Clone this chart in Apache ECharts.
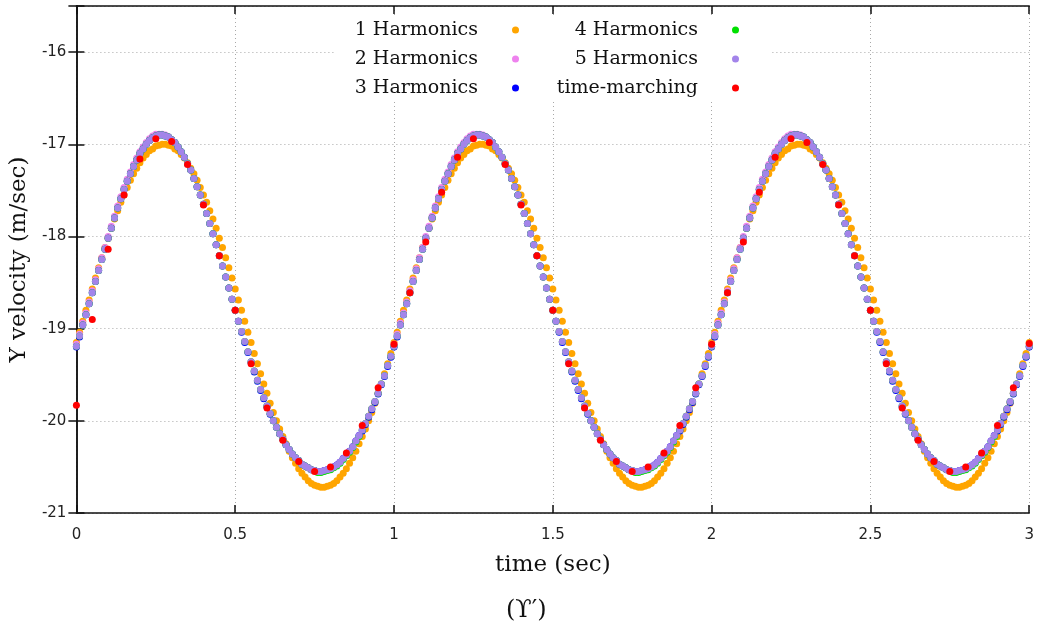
<!DOCTYPE html>
<head>
    <meta charset="utf-8">
    <title>Y velocity vs time</title>
    <style>
        html, body {
            width: 100%;
            height: 100%;
            margin: 0;
            background: #fff;
        }
        #main {
            width: 1037px;
            height: 628px;
        }
    </style>
</head>
<body>
<div id="main"></div>
<script src="https://cdn.jsdelivr.net/npm/echarts@6/dist/echarts.min.js"></script>
<script type="text/javascript">
  // sampling of the harmonic-balance curves and of the time-marching run (sec)
  var tStep = 0.01;
  var tmStep = 0.05;

  var xTicks = [0, 3, 0.5];      // min, max, interval
  var yTicks = [-21, -15.5, 1];

  // 1 harmonic
  var h1 = [
    -19.15,-19.04,-18.92,-18.80,-18.69,-18.57,-18.45,-18.34,-18.23,-18.12,
    -18.02,-17.91,-17.81,-17.72,-17.63,-17.55,-17.47,-17.39,-17.32,-17.26,
    -17.20,-17.15,-17.11,-17.07,-17.05,-17.02,-17.01,-17.00,-17.00,-17.01,
    -17.02,-17.05,-17.07,-17.11,-17.15,-17.20,-17.26,-17.32,-17.39,-17.47,
    -17.55,-17.63,-17.72,-17.81,-17.91,-18.02,-18.12,-18.23,-18.34,-18.45,
    -18.57,-18.69,-18.80,-18.92,-19.04,-19.15,-19.27,-19.38,-19.49,-19.60,
    -19.70,-19.81,-19.91,-20.00,-20.09,-20.17,-20.25,-20.33,-20.40,-20.46,
    -20.52,-20.57,-20.61,-20.65,-20.68,-20.70,-20.71,-20.72,-20.72,-20.71,
    -20.70,-20.68,-20.65,-20.61,-20.57,-20.52,-20.46,-20.40,-20.33,-20.25,
    -20.17,-20.09,-20.00,-19.91,-19.81,-19.70,-19.60,-19.49,-19.38,-19.27,
    -19.15,-19.04,-18.92,-18.80,-18.69,-18.57,-18.45,-18.34,-18.23,-18.12,
    -18.02,-17.91,-17.81,-17.72,-17.63,-17.55,-17.47,-17.39,-17.32,-17.26,
    -17.20,-17.15,-17.11,-17.07,-17.05,-17.02,-17.01,-17.00,-17.00,-17.01,
    -17.02,-17.05,-17.07,-17.11,-17.15,-17.20,-17.26,-17.32,-17.39,-17.47,
    -17.55,-17.63,-17.72,-17.81,-17.91,-18.02,-18.12,-18.23,-18.34,-18.45,
    -18.57,-18.69,-18.80,-18.92,-19.04,-19.15,-19.27,-19.38,-19.49,-19.60,
    -19.70,-19.81,-19.91,-20.00,-20.09,-20.17,-20.25,-20.33,-20.40,-20.46,
    -20.52,-20.57,-20.61,-20.65,-20.68,-20.70,-20.71,-20.72,-20.72,-20.71,
    -20.70,-20.68,-20.65,-20.61,-20.57,-20.52,-20.46,-20.40,-20.33,-20.25,
    -20.17,-20.09,-20.00,-19.91,-19.81,-19.70,-19.60,-19.49,-19.38,-19.27,
    -19.15,-19.04,-18.92,-18.80,-18.69,-18.57,-18.45,-18.34,-18.23,-18.12,
    -18.02,-17.91,-17.81,-17.72,-17.63,-17.55,-17.47,-17.39,-17.32,-17.26,
    -17.20,-17.15,-17.11,-17.07,-17.05,-17.02,-17.01,-17.00,-17.00,-17.01,
    -17.02,-17.05,-17.07,-17.11,-17.15,-17.20,-17.26,-17.32,-17.39,-17.47,
    -17.55,-17.63,-17.72,-17.81,-17.91,-18.02,-18.12,-18.23,-18.34,-18.45,
    -18.57,-18.69,-18.80,-18.92,-19.04,-19.15,-19.27,-19.38,-19.49,-19.60,
    -19.70,-19.81,-19.91,-20.00,-20.09,-20.17,-20.25,-20.33,-20.40,-20.46,
    -20.52,-20.57,-20.61,-20.65,-20.68,-20.70,-20.71,-20.72,-20.72,-20.71,
    -20.70,-20.68,-20.65,-20.61,-20.57,-20.52,-20.46,-20.40,-20.33,-20.25,
    -20.17,-20.09,-20.00,-19.91,-19.81,-19.70,-19.60,-19.49,-19.38,-19.27,
    -19.15
  ];

  // 2 harmonics
  var h2 = [
    -19.17,-19.06,-18.94,-18.83,-18.71,-18.59,-18.47,-18.35,-18.23,-18.12,
    -18.00,-17.89,-17.78,-17.67,-17.57,-17.47,-17.38,-17.30,-17.22,-17.15,
    -17.08,-17.03,-16.98,-16.94,-16.91,-16.89,-16.89,-16.89,-16.90,-16.92,
    -16.95,-16.98,-17.03,-17.08,-17.14,-17.21,-17.28,-17.37,-17.46,-17.55,
    -17.65,-17.75,-17.86,-17.97,-18.09,-18.21,-18.32,-18.44,-18.56,-18.68,
    -18.80,-18.92,-19.03,-19.14,-19.25,-19.36,-19.46,-19.56,-19.66,-19.75,
    -19.84,-19.92,-20.00,-20.07,-20.14,-20.20,-20.26,-20.31,-20.36,-20.40,
    -20.43,-20.47,-20.49,-20.51,-20.53,-20.54,-20.55,-20.55,-20.54,-20.53,
    -20.52,-20.50,-20.48,-20.45,-20.41,-20.37,-20.33,-20.28,-20.22,-20.16,
    -20.10,-20.03,-19.95,-19.87,-19.79,-19.70,-19.60,-19.51,-19.40,-19.30,
    -19.17,-19.06,-18.94,-18.83,-18.71,-18.59,-18.47,-18.35,-18.23,-18.12,
    -18.00,-17.89,-17.78,-17.67,-17.57,-17.47,-17.38,-17.30,-17.22,-17.15,
    -17.08,-17.03,-16.98,-16.94,-16.91,-16.89,-16.89,-16.89,-16.90,-16.92,
    -16.95,-16.98,-17.03,-17.08,-17.14,-17.21,-17.28,-17.37,-17.46,-17.55,
    -17.65,-17.75,-17.86,-17.97,-18.09,-18.21,-18.32,-18.44,-18.56,-18.68,
    -18.80,-18.92,-19.03,-19.14,-19.25,-19.36,-19.46,-19.56,-19.66,-19.75,
    -19.84,-19.92,-20.00,-20.07,-20.14,-20.20,-20.26,-20.31,-20.36,-20.40,
    -20.43,-20.47,-20.49,-20.51,-20.53,-20.54,-20.55,-20.55,-20.54,-20.53,
    -20.52,-20.50,-20.48,-20.45,-20.41,-20.37,-20.33,-20.28,-20.22,-20.16,
    -20.10,-20.03,-19.95,-19.87,-19.79,-19.70,-19.60,-19.51,-19.40,-19.30,
    -19.17,-19.06,-18.94,-18.83,-18.71,-18.59,-18.47,-18.35,-18.23,-18.12,
    -18.00,-17.89,-17.78,-17.67,-17.57,-17.47,-17.38,-17.30,-17.22,-17.15,
    -17.08,-17.03,-16.98,-16.94,-16.91,-16.89,-16.89,-16.89,-16.90,-16.92,
    -16.95,-16.98,-17.03,-17.08,-17.14,-17.21,-17.28,-17.37,-17.46,-17.55,
    -17.65,-17.75,-17.86,-17.97,-18.09,-18.21,-18.32,-18.44,-18.56,-18.68,
    -18.80,-18.92,-19.03,-19.14,-19.25,-19.36,-19.46,-19.56,-19.66,-19.75,
    -19.84,-19.92,-20.00,-20.07,-20.14,-20.20,-20.26,-20.31,-20.36,-20.40,
    -20.43,-20.47,-20.49,-20.51,-20.53,-20.54,-20.55,-20.55,-20.54,-20.53,
    -20.52,-20.50,-20.48,-20.45,-20.41,-20.37,-20.33,-20.28,-20.22,-20.16,
    -20.10,-20.03,-19.95,-19.87,-19.79,-19.70,-19.60,-19.51,-19.40,-19.30,
    -19.17
  ];

  // 3 harmonics
  var h3 = [
    -19.20,-19.09,-18.96,-18.85,-18.73,-18.61,-18.49,-18.37,-18.25,-18.14,
    -18.02,-17.91,-17.80,-17.69,-17.59,-17.49,-17.40,-17.32,-17.24,-17.17,
    -17.10,-17.05,-17.00,-16.96,-16.93,-16.91,-16.90,-16.90,-16.91,-16.92,
    -16.95,-16.98,-17.03,-17.08,-17.14,-17.21,-17.28,-17.37,-17.46,-17.55,
    -17.65,-17.75,-17.86,-17.97,-18.09,-18.21,-18.32,-18.44,-18.56,-18.68,
    -18.80,-18.92,-19.04,-19.15,-19.26,-19.37,-19.47,-19.57,-19.67,-19.76,
    -19.85,-19.93,-20.00,-20.07,-20.14,-20.20,-20.26,-20.31,-20.36,-20.40,
    -20.43,-20.47,-20.49,-20.51,-20.53,-20.54,-20.55,-20.55,-20.54,-20.53,
    -20.52,-20.50,-20.48,-20.45,-20.41,-20.37,-20.33,-20.28,-20.22,-20.16,
    -20.11,-20.04,-19.96,-19.88,-19.80,-19.71,-19.61,-19.52,-19.41,-19.31,
    -19.20,-19.09,-18.96,-18.85,-18.73,-18.61,-18.49,-18.37,-18.25,-18.14,
    -18.02,-17.91,-17.80,-17.69,-17.59,-17.49,-17.40,-17.32,-17.24,-17.17,
    -17.10,-17.05,-17.00,-16.96,-16.93,-16.91,-16.90,-16.90,-16.91,-16.92,
    -16.95,-16.98,-17.03,-17.08,-17.14,-17.21,-17.28,-17.37,-17.46,-17.55,
    -17.65,-17.75,-17.86,-17.97,-18.09,-18.21,-18.32,-18.44,-18.56,-18.68,
    -18.80,-18.92,-19.04,-19.15,-19.26,-19.37,-19.47,-19.57,-19.67,-19.76,
    -19.85,-19.93,-20.00,-20.07,-20.14,-20.20,-20.26,-20.31,-20.36,-20.40,
    -20.43,-20.47,-20.49,-20.51,-20.53,-20.54,-20.55,-20.55,-20.54,-20.53,
    -20.52,-20.50,-20.48,-20.45,-20.41,-20.37,-20.33,-20.28,-20.22,-20.16,
    -20.11,-20.04,-19.96,-19.88,-19.80,-19.71,-19.61,-19.52,-19.41,-19.31,
    -19.20,-19.09,-18.96,-18.85,-18.73,-18.61,-18.49,-18.37,-18.25,-18.14,
    -18.02,-17.91,-17.80,-17.69,-17.59,-17.49,-17.40,-17.32,-17.24,-17.17,
    -17.10,-17.05,-17.00,-16.96,-16.93,-16.91,-16.90,-16.90,-16.91,-16.92,
    -16.95,-16.98,-17.03,-17.08,-17.14,-17.21,-17.28,-17.37,-17.46,-17.55,
    -17.65,-17.75,-17.86,-17.97,-18.09,-18.21,-18.32,-18.44,-18.56,-18.68,
    -18.80,-18.92,-19.04,-19.15,-19.26,-19.37,-19.47,-19.57,-19.67,-19.76,
    -19.85,-19.93,-20.00,-20.07,-20.14,-20.20,-20.26,-20.31,-20.36,-20.40,
    -20.43,-20.47,-20.49,-20.51,-20.53,-20.54,-20.55,-20.55,-20.54,-20.53,
    -20.52,-20.50,-20.48,-20.45,-20.41,-20.37,-20.33,-20.28,-20.22,-20.16,
    -20.11,-20.04,-19.96,-19.88,-19.80,-19.71,-19.61,-19.52,-19.41,-19.31,
    -19.20
  ];

  // 4 harmonics
  var h4 = [
    -19.19,-19.08,-18.96,-18.85,-18.73,-18.61,-18.49,-18.37,-18.25,-18.14,
    -18.02,-17.91,-17.80,-17.69,-17.59,-17.49,-17.40,-17.32,-17.24,-17.17,
    -17.10,-17.05,-17.00,-16.96,-16.93,-16.91,-16.90,-16.90,-16.91,-16.92,
    -16.95,-16.98,-17.03,-17.08,-17.14,-17.21,-17.28,-17.37,-17.46,-17.55,
    -17.65,-17.75,-17.86,-17.97,-18.09,-18.21,-18.32,-18.44,-18.56,-18.68,
    -18.80,-18.92,-19.03,-19.14,-19.25,-19.36,-19.46,-19.56,-19.66,-19.75,
    -19.84,-19.92,-20.00,-20.07,-20.14,-20.20,-20.26,-20.31,-20.36,-20.40,
    -20.43,-20.47,-20.49,-20.51,-20.53,-20.54,-20.56,-20.56,-20.55,-20.54,
    -20.53,-20.51,-20.49,-20.46,-20.42,-20.38,-20.34,-20.29,-20.23,-20.17,
    -20.10,-20.03,-19.95,-19.87,-19.79,-19.70,-19.60,-19.51,-19.40,-19.30,
    -19.19,-19.08,-18.96,-18.85,-18.73,-18.61,-18.49,-18.37,-18.25,-18.14,
    -18.02,-17.91,-17.80,-17.69,-17.59,-17.49,-17.40,-17.32,-17.24,-17.17,
    -17.10,-17.05,-17.00,-16.96,-16.93,-16.91,-16.90,-16.90,-16.91,-16.92,
    -16.95,-16.98,-17.03,-17.08,-17.14,-17.21,-17.28,-17.37,-17.46,-17.55,
    -17.65,-17.75,-17.86,-17.97,-18.09,-18.21,-18.32,-18.44,-18.56,-18.68,
    -18.80,-18.92,-19.03,-19.14,-19.25,-19.36,-19.46,-19.56,-19.66,-19.75,
    -19.84,-19.92,-20.00,-20.07,-20.14,-20.20,-20.26,-20.31,-20.36,-20.40,
    -20.43,-20.47,-20.49,-20.51,-20.53,-20.54,-20.56,-20.56,-20.55,-20.54,
    -20.53,-20.51,-20.49,-20.46,-20.42,-20.38,-20.34,-20.29,-20.23,-20.17,
    -20.10,-20.03,-19.95,-19.87,-19.79,-19.70,-19.60,-19.51,-19.40,-19.30,
    -19.19,-19.08,-18.96,-18.85,-18.73,-18.61,-18.49,-18.37,-18.25,-18.14,
    -18.02,-17.91,-17.80,-17.69,-17.59,-17.49,-17.40,-17.32,-17.24,-17.17,
    -17.10,-17.05,-17.00,-16.96,-16.93,-16.91,-16.90,-16.90,-16.91,-16.92,
    -16.95,-16.98,-17.03,-17.08,-17.14,-17.21,-17.28,-17.37,-17.46,-17.55,
    -17.65,-17.75,-17.86,-17.97,-18.09,-18.21,-18.32,-18.44,-18.56,-18.68,
    -18.80,-18.92,-19.03,-19.14,-19.25,-19.36,-19.46,-19.56,-19.66,-19.75,
    -19.84,-19.92,-20.00,-20.07,-20.14,-20.20,-20.26,-20.31,-20.36,-20.40,
    -20.43,-20.47,-20.49,-20.51,-20.53,-20.54,-20.56,-20.56,-20.55,-20.54,
    -20.53,-20.51,-20.49,-20.46,-20.42,-20.38,-20.34,-20.29,-20.23,-20.17,
    -20.10,-20.03,-19.95,-19.87,-19.79,-19.70,-19.60,-19.51,-19.40,-19.30,
    -19.19
  ];

  // 5 harmonics
  var h5 = [
    -19.19,-19.08,-18.96,-18.85,-18.73,-18.61,-18.49,-18.37,-18.25,-18.14,
    -18.02,-17.91,-17.80,-17.69,-17.59,-17.49,-17.40,-17.32,-17.24,-17.17,
    -17.10,-17.05,-17.00,-16.96,-16.93,-16.91,-16.90,-16.90,-16.91,-16.92,
    -16.95,-16.98,-17.03,-17.08,-17.14,-17.21,-17.28,-17.37,-17.46,-17.55,
    -17.65,-17.75,-17.86,-17.97,-18.09,-18.21,-18.32,-18.44,-18.56,-18.68,
    -18.80,-18.92,-19.03,-19.14,-19.25,-19.36,-19.46,-19.56,-19.66,-19.75,
    -19.84,-19.92,-20.00,-20.07,-20.14,-20.20,-20.26,-20.31,-20.36,-20.40,
    -20.43,-20.47,-20.49,-20.51,-20.53,-20.54,-20.55,-20.55,-20.54,-20.53,
    -20.52,-20.50,-20.48,-20.45,-20.41,-20.37,-20.33,-20.28,-20.22,-20.16,
    -20.10,-20.03,-19.95,-19.87,-19.79,-19.70,-19.60,-19.51,-19.40,-19.30,
    -19.19,-19.08,-18.96,-18.85,-18.73,-18.61,-18.49,-18.37,-18.25,-18.14,
    -18.02,-17.91,-17.80,-17.69,-17.59,-17.49,-17.40,-17.32,-17.24,-17.17,
    -17.10,-17.05,-17.00,-16.96,-16.93,-16.91,-16.90,-16.90,-16.91,-16.92,
    -16.95,-16.98,-17.03,-17.08,-17.14,-17.21,-17.28,-17.37,-17.46,-17.55,
    -17.65,-17.75,-17.86,-17.97,-18.09,-18.21,-18.32,-18.44,-18.56,-18.68,
    -18.80,-18.92,-19.03,-19.14,-19.25,-19.36,-19.46,-19.56,-19.66,-19.75,
    -19.84,-19.92,-20.00,-20.07,-20.14,-20.20,-20.26,-20.31,-20.36,-20.40,
    -20.43,-20.47,-20.49,-20.51,-20.53,-20.54,-20.55,-20.55,-20.54,-20.53,
    -20.52,-20.50,-20.48,-20.45,-20.41,-20.37,-20.33,-20.28,-20.22,-20.16,
    -20.10,-20.03,-19.95,-19.87,-19.79,-19.70,-19.60,-19.51,-19.40,-19.30,
    -19.19,-19.08,-18.96,-18.85,-18.73,-18.61,-18.49,-18.37,-18.25,-18.14,
    -18.02,-17.91,-17.80,-17.69,-17.59,-17.49,-17.40,-17.32,-17.24,-17.17,
    -17.10,-17.05,-17.00,-16.96,-16.93,-16.91,-16.90,-16.90,-16.91,-16.92,
    -16.95,-16.98,-17.03,-17.08,-17.14,-17.21,-17.28,-17.37,-17.46,-17.55,
    -17.65,-17.75,-17.86,-17.97,-18.09,-18.21,-18.32,-18.44,-18.56,-18.68,
    -18.80,-18.92,-19.03,-19.14,-19.25,-19.36,-19.46,-19.56,-19.66,-19.75,
    -19.84,-19.92,-20.00,-20.07,-20.14,-20.20,-20.26,-20.31,-20.36,-20.40,
    -20.43,-20.47,-20.49,-20.51,-20.53,-20.54,-20.55,-20.55,-20.54,-20.53,
    -20.52,-20.50,-20.48,-20.45,-20.41,-20.37,-20.33,-20.28,-20.22,-20.16,
    -20.10,-20.03,-19.95,-19.87,-19.79,-19.70,-19.60,-19.51,-19.40,-19.30,
    -19.19
  ];

  // time-marching, every 0.05 s
  var tm = [
    -19.83,-18.90,-18.14,-17.55,-17.16,-16.94,-16.97,-17.22,-17.66,-18.21,
    -18.80,-19.38,-19.86,-20.21,-20.44,-20.55,-20.50,-20.35,-20.05,-19.64,
    -19.17,-18.61,-18.06,-17.52,-17.14,-16.94,-16.98,-17.22,-17.66,-18.21,
    -18.80,-19.38,-19.86,-20.21,-20.44,-20.55,-20.50,-20.35,-20.05,-19.64,
    -19.17,-18.61,-18.06,-17.52,-17.14,-16.94,-16.98,-17.22,-17.66,-18.21,
    -18.80,-19.38,-19.86,-20.21,-20.44,-20.55,-20.50,-20.35,-20.05,-19.64,
    -19.16
  ];

  var seriesNames = ['1 Harmonics', '2 Harmonics', '3 Harmonics', '4 Harmonics', '5 Harmonics', 'time-marching'];
  var seriesColors = ['#ffa500', '#ee82ee', '#0000ff', '#00e000', '#a384ea', '#ff0000'];

  function pairs(values, step) {
    return values.map(function (v, i) {
      return [+(i * step).toFixed(2), v];
    });
  }

  var allData = [
    pairs(h1, tStep), pairs(h2, tStep), pairs(h3, tStep),
    pairs(h4, tStep), pairs(h5, tStep), pairs(tm, tmStep)
  ];

  var myChart = echarts.init(document.getElementById('main'), null, {renderer: 'canvas'});

  var gridDots = {show: true, lineStyle: {color: '#a8a8a8', width: 1, type: [1, 3]}};
  var frameLine = {color: '#111', width: 1.5};
  var tickStyle = {inside: true, length: 8, lineStyle: {color: '#111', width: 1.5}};
  var legendText = {
    fontFamily: 'DejaVu Serif', fontSize: 19, color: '#111',
    lineHeight: 20, padding: [0, 29, 0, 0]
  };

  var option = {
    animation: false,
    backgroundColor: '#fff',
    title: {
      text: '(ϒ′)',
      left: 506,
      top: 599,
      padding: 0,
      textStyle: {fontFamily: 'DejaVu Serif', fontSize: 24, fontWeight: 'normal', color: '#111'}
    },
    grid: {left: 76, right: 7, top: 6, bottom: 115, show: false},
    legend: [
      {
        data: seriesNames.slice(0, 3),
        orient: 'vertical', align: 'right', icon: 'circle',
        itemWidth: 7, itemHeight: 7, itemGap: 9,
        right: 486, top: 17, padding: [3, 32, 3, 20],
        backgroundColor: '#fff', selectedMode: false,
        textStyle: legendText
      },
      {
        data: seriesNames.slice(3),
        orient: 'vertical', align: 'right', icon: 'circle',
        itemWidth: 7, itemHeight: 7, itemGap: 9,
        right: 266, top: 17, padding: [3, 32, 3, 10],
        backgroundColor: '#fff', selectedMode: false,
        textStyle: legendText
      }
    ],
    xAxis: [
      {
        type: 'value', position: 'bottom',
        min: xTicks[0], max: xTicks[1], interval: xTicks[2],
        name: 'time (sec)', nameLocation: 'middle', nameGap: 41,
        nameTextStyle: {fontFamily: 'DejaVu Serif', fontSize: 23, color: '#111'},
        axisLine: {show: true, lineStyle: frameLine},
        axisTick: tickStyle,
        axisLabel: {fontFamily: 'DejaVu Sans', fontSize: 15, color: '#222', margin: 15},
        splitLine: gridDots
      },
      {
        type: 'value', position: 'top',
        min: xTicks[0], max: xTicks[1], interval: xTicks[2],
        axisLine: {show: true, lineStyle: frameLine},
        axisTick: tickStyle,
        axisLabel: {show: false},
        splitLine: {show: false}
      }
    ],
    yAxis: [
      {
        type: 'value', position: 'left',
        min: yTicks[0], max: yTicks[1], interval: yTicks[2],
        name: 'Y velocity (m/sec)', nameLocation: 'middle', nameGap: 41,
        nameTextStyle: {fontFamily: 'DejaVu Serif', fontSize: 23, color: '#111'},
        axisLine: {show: true, lineStyle: frameLine},
        axisTick: tickStyle,
        axisLabel: {
          fontFamily: 'DejaVu Sans', fontSize: 15, color: '#222', margin: 10,
          formatter: function (v) { return Number.isInteger(v) ? String(v) : ''; }
        },
        splitLine: gridDots
      },
      {
        type: 'value', position: 'right',
        min: yTicks[0], max: yTicks[1], interval: yTicks[2],
        axisLine: {show: true, lineStyle: frameLine},
        axisTick: tickStyle,
        axisLabel: {show: false},
        splitLine: {show: false}
      }
    ],
    series: seriesNames.map(function (name, i) {
      return {
        name: name,
        type: 'scatter',
        xAxisIndex: 0,
        yAxisIndex: 0,
        symbol: 'circle',
        symbolSize: 7,
        clip: false,
        itemStyle: {color: seriesColors[i], opacity: 1},
        emphasis: {disabled: true},
        data: allData[i]
      };
    })
  };

  myChart.setOption(option);
</script>
</body>
